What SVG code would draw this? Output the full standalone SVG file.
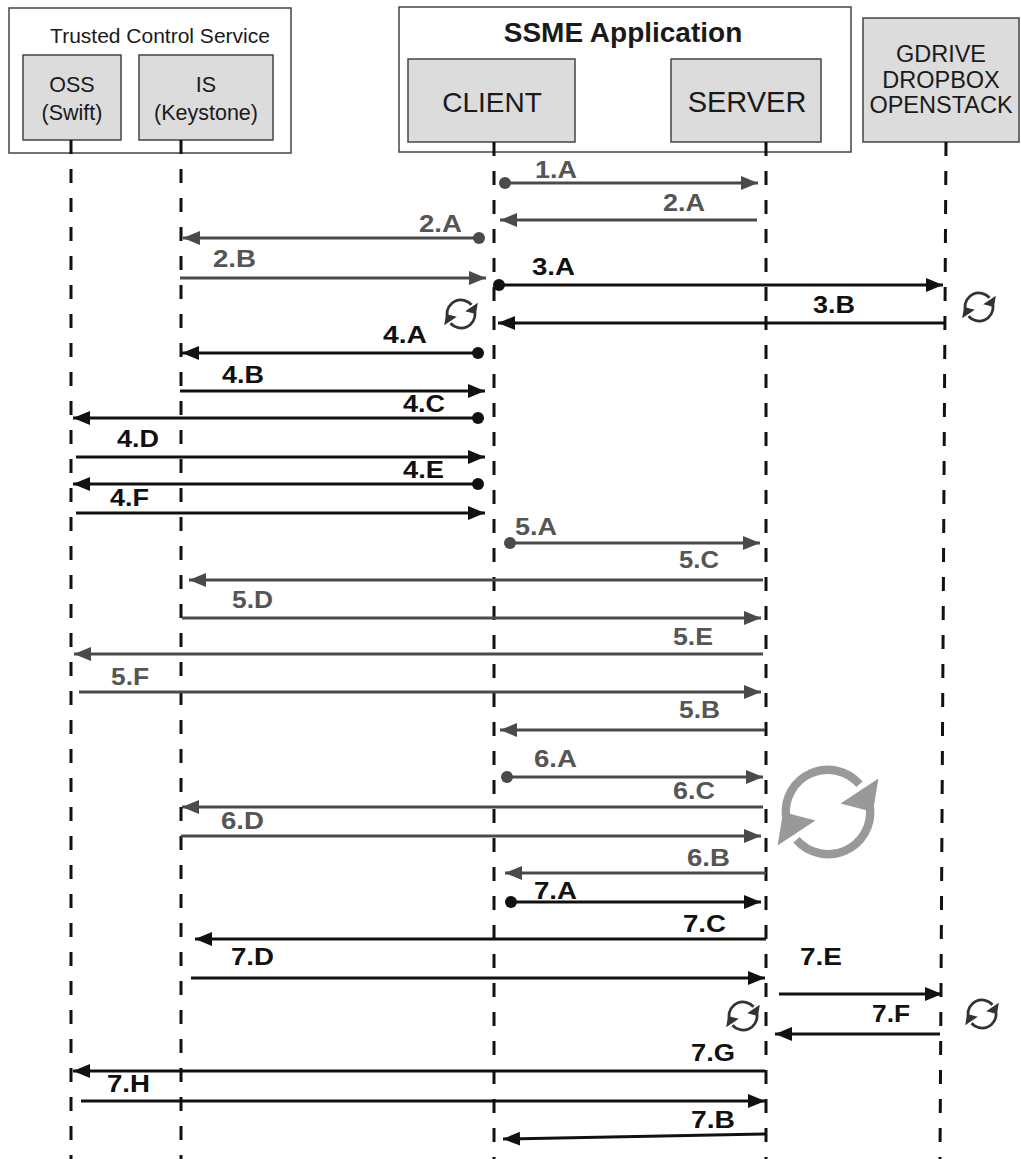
<svg xmlns="http://www.w3.org/2000/svg" xmlns:xlink="http://www.w3.org/1999/xlink" width="1021" height="1159" viewBox="0 0 1021 1159">
<style>
.frame{fill:#fff;stroke:#444;stroke-width:1.5}
.box{fill:#dcdcdc;stroke:#444;stroke-width:1.5}
.t{font-family:"Liberation Sans",Arial,sans-serif;fill:#1a1a1a;text-anchor:middle}
.ll{stroke:#111;stroke-width:3;stroke-dasharray:14 15;fill:none}
.ag{stroke:#4a4a4a;stroke-width:3;fill:none;marker-end:url(#hg)}
.ak{stroke:#111;stroke-width:3;fill:none;marker-end:url(#hk)}
.dg{marker-start:url(#cg)}
.dk{marker-start:url(#ck)}
.lb{font-family:"Liberation Sans",Arial,sans-serif;font-weight:bold;font-size:23px}
.lg{fill:#555}
.lk{fill:#111}
</style>
<defs>
<marker id="hg" markerUnits="userSpaceOnUse" markerWidth="20" markerHeight="16" refX="17" refY="7" orient="auto"><path d="M0,0 L17,7 L0,14 z" fill="#4a4a4a"/></marker>
<marker id="hk" markerUnits="userSpaceOnUse" markerWidth="20" markerHeight="16" refX="17" refY="7" orient="auto"><path d="M0,0 L17,7 L0,14 z" fill="#111"/></marker>
<marker id="cg" markerUnits="userSpaceOnUse" markerWidth="14" markerHeight="14" refX="7" refY="7" orient="auto"><circle cx="7" cy="7" r="6" fill="#4a4a4a"/></marker>
<marker id="ck" markerUnits="userSpaceOnUse" markerWidth="14" markerHeight="14" refX="7" refY="7" orient="auto"><circle cx="7" cy="7" r="6" fill="#111"/></marker>
<g id="rf">
<path d="M -10 1 A 10 10 0 0 1 7.5 -6.6" fill="none" stroke="currentColor" stroke-width="2"/>
<polygon points="12,-8 3,-2 10.7,0" fill="currentColor"/>
<path d="M 10 -1 A 10 10 0 0 1 -7.5 6.6" fill="none" stroke="currentColor" stroke-width="2"/>
<polygon points="-12,8 -3,2 -10.7,0" fill="currentColor"/>
</g>
</defs>
<rect width="1021" height="1159" fill="#fff"/>

<g id="tcs">
<rect class="frame" x="9" y="8" width="282" height="145"/>
<text class="t" x="160" y="43" font-size="21">Trusted Control Service</text>
</g>
<g id="oss">
<rect class="box" x="23" y="55" width="98" height="85"/>
<text class="t" x="72" y="92" font-size="21.5">OSS</text>
<text class="t" x="72" y="120" font-size="21.5">(Swift)</text>
</g>
<g id="is">
<rect class="box" x="139" y="55" width="134" height="85"/>
<text class="t" x="206" y="92" font-size="21.5">IS</text>
<text class="t" x="206" y="120" font-size="21.5">(Keystone)</text>
</g>
<g id="ssme">
<rect class="frame" x="399" y="7" width="452" height="145"/>
<text class="t" x="623" y="42" font-size="28" font-weight="bold">SSME Application</text>
</g>
<g id="client">
<rect class="box" x="408" y="59" width="167" height="83"/>
<text class="t" x="492" y="112" font-size="28">CLIENT</text>
</g>
<g id="server">
<rect class="box" x="671" y="59" width="150" height="83"/>
<text class="t" x="747" y="112" font-size="29">SERVER</text>
</g>
<g id="cloud">
<rect class="box" x="863" y="18" width="156" height="124"/>
<text class="t" x="941" y="62" font-size="23.5">GDRIVE</text>
<text class="t" x="941" y="88" font-size="23.5">DROPBOX</text>
<text class="t" x="941" y="113" font-size="23.5">OPENSTACK</text>
</g>

<g id="lifelines">
<line class="ll" x1="71" y1="140" x2="71" y2="1159"/>
<line class="ll" x1="181" y1="140" x2="181" y2="1159"/>
<line class="ll" x1="494" y1="142" x2="494" y2="1159"/>
<line class="ll" x1="766" y1="142" x2="766" y2="1159"/>
<line class="ll" x1="946" y1="142" x2="940" y2="1159"/>
</g>

<g id="connectors">
<line class="ag dg" x1="505" y1="183" x2="758" y2="183"/>
<line class="ag" x1="757" y1="220" x2="500" y2="220"/>
<line class="ag dg" x1="479" y1="238" x2="183" y2="238"/>
<line class="ag" x1="180" y1="278" x2="486" y2="278"/>
<line class="ak dk" x1="499" y1="285" x2="943" y2="285"/>
<line class="ak" x1="946" y1="323" x2="498" y2="323"/>
<line class="ak dk" x1="478" y1="353" x2="182" y2="353"/>
<line class="ak" x1="180" y1="391" x2="485" y2="391"/>
<line class="ak dk" x1="478" y1="418" x2="73" y2="418"/>
<line class="ak" x1="76" y1="457" x2="485" y2="457"/>
<line class="ak dk" x1="478" y1="484" x2="73" y2="484"/>
<line class="ak" x1="76" y1="513" x2="485" y2="513"/>
<line class="ag dg" x1="510" y1="543" x2="760" y2="543"/>
<line class="ag" x1="763" y1="580" x2="189" y2="580"/>
<line class="ag" x1="182" y1="618" x2="761" y2="618"/>
<line class="ag" x1="763" y1="654" x2="74" y2="654"/>
<line class="ag" x1="79" y1="692" x2="761" y2="692"/>
<line class="ag" x1="765" y1="730" x2="500" y2="730"/>
<line class="ag dg" x1="507" y1="777" x2="763" y2="777"/>
<line class="ag" x1="763" y1="807" x2="182" y2="807"/>
<line class="ag" x1="181" y1="836" x2="761" y2="836"/>
<line class="ag" x1="766" y1="873" x2="505" y2="873"/>
<line class="ak dk" x1="511" y1="902" x2="761" y2="902"/>
<line class="ak" x1="766" y1="939" x2="195" y2="939"/>
<line class="ak" x1="191" y1="978" x2="765" y2="978"/>
<line class="ak" x1="779" y1="994" x2="942" y2="994"/>
<line class="ak" x1="940" y1="1034" x2="775" y2="1034"/>
<line class="ak" x1="765" y1="1071" x2="73" y2="1071"/>
<line class="ak" x1="81" y1="1101" x2="765" y2="1101"/>
<line class="ak" x1="765" y1="1134" x2="503" y2="1139"/>
</g>

<g id="labels">
<text class="lb lg" x="535" y="178" textLength="42" lengthAdjust="spacingAndGlyphs">1.A</text>
<text class="lb lg" x="663" y="211" textLength="42" lengthAdjust="spacingAndGlyphs">2.A</text>
<text class="lb lg" x="419" y="232" textLength="43" lengthAdjust="spacingAndGlyphs">2.A</text>
<text class="lb lg" x="213" y="267" textLength="43" lengthAdjust="spacingAndGlyphs">2.B</text>
<text class="lb lk" x="532" y="275" textLength="43" lengthAdjust="spacingAndGlyphs">3.A</text>
<text class="lb lk" x="813" y="313" textLength="42" lengthAdjust="spacingAndGlyphs">3.B</text>
<text class="lb lk" x="383" y="343" textLength="44" lengthAdjust="spacingAndGlyphs">4.A</text>
<text class="lb lk" x="222" y="383" textLength="42" lengthAdjust="spacingAndGlyphs">4.B</text>
<text class="lb lk" x="403" y="412" textLength="42" lengthAdjust="spacingAndGlyphs">4.C</text>
<text class="lb lk" x="117" y="447" textLength="42" lengthAdjust="spacingAndGlyphs">4.D</text>
<text class="lb lk" x="403" y="478" textLength="41" lengthAdjust="spacingAndGlyphs">4.E</text>
<text class="lb lk" x="110" y="506" textLength="39" lengthAdjust="spacingAndGlyphs">4.F</text>
<text class="lb lg" x="515" y="535" textLength="42" lengthAdjust="spacingAndGlyphs">5.A</text>
<text class="lb lg" x="679" y="568" textLength="40" lengthAdjust="spacingAndGlyphs">5.C</text>
<text class="lb lg" x="232" y="608" textLength="41" lengthAdjust="spacingAndGlyphs">5.D</text>
<text class="lb lg" x="673" y="645" textLength="40" lengthAdjust="spacingAndGlyphs">5.E</text>
<text class="lb lg" x="111" y="685" textLength="38" lengthAdjust="spacingAndGlyphs">5.F</text>
<text class="lb lg" x="679" y="718" textLength="41" lengthAdjust="spacingAndGlyphs">5.B</text>
<text class="lb lg" x="534" y="767" textLength="43" lengthAdjust="spacingAndGlyphs">6.A</text>
<text class="lb lg" x="673" y="799" textLength="42" lengthAdjust="spacingAndGlyphs">6.C</text>
<text class="lb lg" x="221" y="829" textLength="43" lengthAdjust="spacingAndGlyphs">6.D</text>
<text class="lb lg" x="687" y="866" textLength="43" lengthAdjust="spacingAndGlyphs">6.B</text>
<text class="lb lk" x="534" y="899" textLength="43" lengthAdjust="spacingAndGlyphs">7.A</text>
<text class="lb lk" x="683" y="932" textLength="43" lengthAdjust="spacingAndGlyphs">7.C</text>
<text class="lb lk" x="231" y="965" textLength="43" lengthAdjust="spacingAndGlyphs">7.D</text>
<text class="lb lk" x="800" y="965" textLength="42" lengthAdjust="spacingAndGlyphs">7.E</text>
<text class="lb lk" x="872" y="1022" textLength="38" lengthAdjust="spacingAndGlyphs">7.F</text>
<text class="lb lk" x="691" y="1061" textLength="44" lengthAdjust="spacingAndGlyphs">7.G</text>
<text class="lb lk" x="107" y="1092" textLength="43" lengthAdjust="spacingAndGlyphs">7.H</text>
<text class="lb lk" x="691" y="1128" textLength="44" lengthAdjust="spacingAndGlyphs">7.B</text>
</g>

<g id="refresh-icons">
<use xlink:href="#rf" href="#rf" transform="translate(461 314) scale(1.4)" color="#333"/>
<use xlink:href="#rf" href="#rf" transform="translate(979 307) scale(1.4)" color="#333"/>
<use xlink:href="#rf" href="#rf" transform="translate(828 812) scale(4.2)" color="#999"/>
<use xlink:href="#rf" href="#rf" transform="translate(743 1016) scale(1.4)" color="#333"/>
<use xlink:href="#rf" href="#rf" transform="translate(982 1014) scale(1.4)" color="#333"/>
</g>
</svg>
